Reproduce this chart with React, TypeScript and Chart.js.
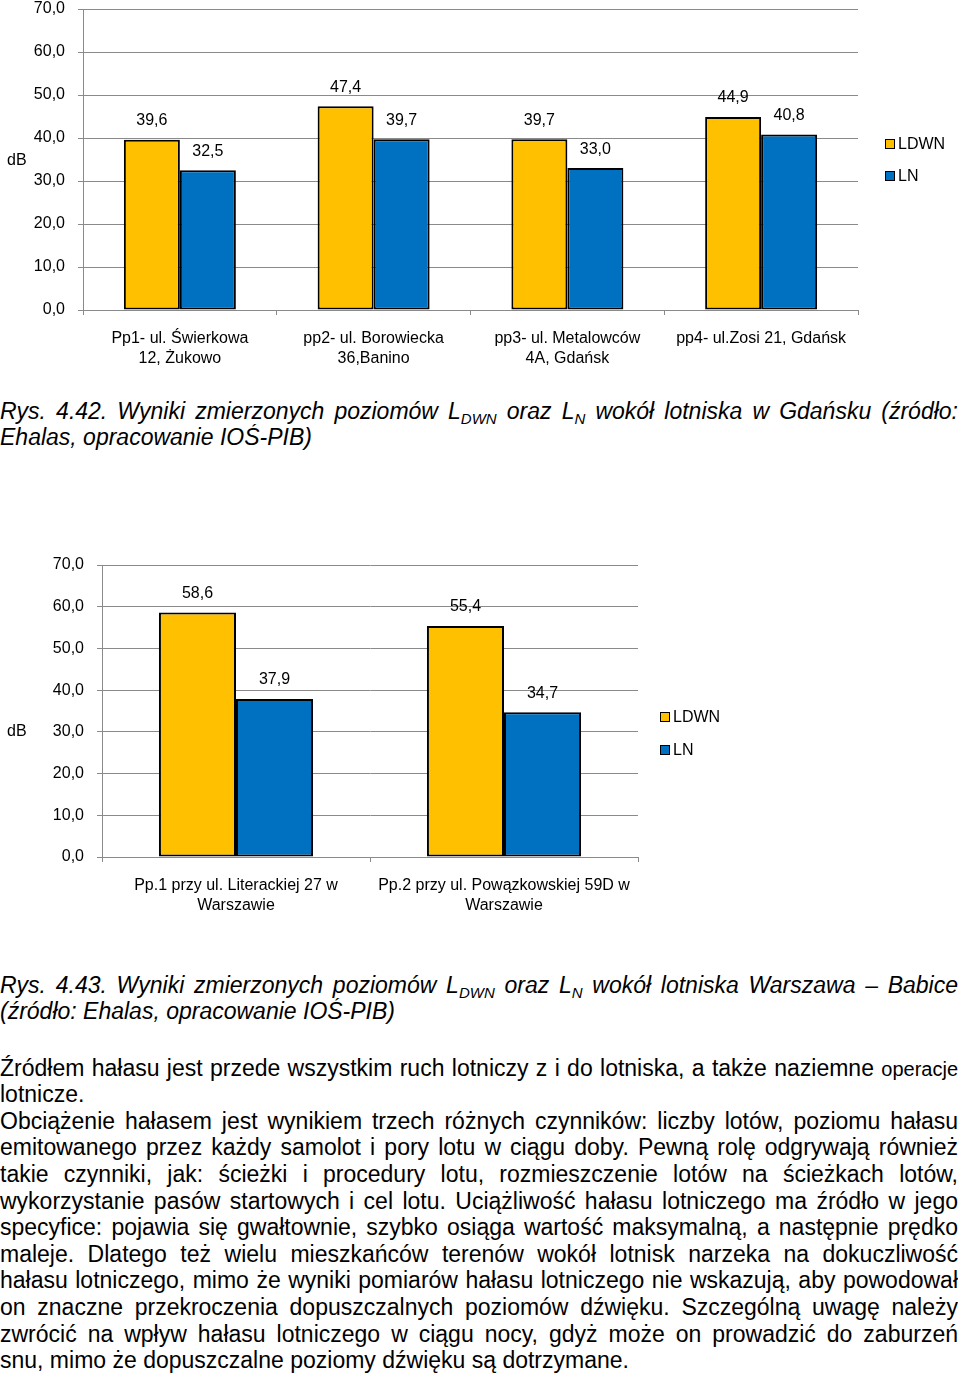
import React, { useEffect, useRef } from 'react';
import { Chart, registerables } from 'chart.js';

Chart.register(...registerables);

const FONT = '"Liberation Sans", Arial, Helvetica, sans-serif';
const GRID = '#8a8a8a';
const YELLOW = '#FFC000';
const BLUE = '#0070C0';

// ---- data ----
const seriesLabels = ['LDWN', 'LN'];
const yMin = 0;
const yMax = 70;
const yStep = 10;

const gdanskCategories = [
  ['Pp1- ul. Świerkowa', '12, Żukowo'],
  ['pp2- ul. Borowiecka', '36,Banino'],
  ['pp3- ul. Metalowców', '4A, Gdańsk'],
  ['pp4- ul.Zosi 21, Gdańsk'],
];
const gdanskLdwn = [39.6, 47.4, 39.7, 44.9];
const gdanskLn = [32.5, 39.7, 33.0, 40.8];

const warsawCategories = [
  ['Pp.1 przy ul. Literackiej 27 w', 'Warszawie'],
  ['Pp.2 przy ul. Powązkowskiej 59D w', 'Warszawie'],
];
const warsawLdwn = [58.6, 55.4];
const warsawLn = [37.9, 34.7];

const bodyLines = [
  'Źródłem hałasu jest przede wszystkim ruch lotniczy z i do lotniska, a także naziemne ',
  'lotnicze.',
  'Obciążenie hałasem jest wynikiem trzech różnych czynników: liczby lotów, poziomu hałasu',
  'emitowanego przez każdy samolot i pory lotu w ciągu doby. Pewną rolę odgrywają również',
  'takie czynniki, jak: ścieżki i procedury lotu, rozmieszczenie lotów na ścieżkach lotów,',
  'wykorzystanie pasów startowych i cel lotu. Uciążliwość hałasu lotniczego ma źródło w jego',
  'specyfice: pojawia się gwałtownie, szybko osiąga wartość maksymalną, a następnie prędko',
  'maleje. Dlatego też wielu mieszkańców terenów wokół lotnisk narzeka na dokuczliwość',
  'hałasu lotniczego, mimo że wyniki pomiarów hałasu lotniczego nie wskazują, aby powodował',
  'on znaczne przekroczenia dopuszczalnych poziomów dźwięku. Szczególną uwagę należy',
  'zwrócić na wpływ hałasu lotniczego w ciągu nocy, gdyż może on prowadzić do zaburzeń',
  'snu, mimo że dopuszczalne poziomy dźwięku są dotrzymane.',
];
const bodyJustified = [true, false, true, true, true, true, true, true, true, true, true, false];

const fmt = (v: number) => Number(v).toFixed(1).replace('.', ',');

const valueLabelPlugin = {
  id: 'valueLabels',
  afterDatasetsDraw(chart: any) {
    const ctx = chart.ctx;
    ctx.save();
    ctx.font = `16px ${FONT}`;
    ctx.fillStyle = '#000';
    ctx.textAlign = 'center';
    ctx.textBaseline = 'middle';
    chart.data.datasets.forEach((ds: any, i: number) => {
      const meta = chart.getDatasetMeta(i);
      meta.data.forEach((bar: any, j: number) => {
        ctx.fillText(fmt(ds.data[j]), bar.x, bar.y - 19);
      });
    });
    ctx.restore();
  },
};

type Area = { left: number; top: number; right: number; bottom: number };

function BarChart(props: {
  categories: string[][];
  ldwn: number[];
  ln: number[];
  width: number;
  height: number;
  area: Area;
  catPct: number;
}) {
  const ref = useRef<HTMLCanvasElement | null>(null);
  useEffect(() => {
    const { categories, ldwn, ln, width, height, area, catPct } = props;
    const chart = new Chart(ref.current as HTMLCanvasElement, {
      type: 'bar',
      data: {
        labels: categories,
        datasets: [
          {
            label: seriesLabels[0],
            data: ldwn,
            backgroundColor: YELLOW,
            borderColor: '#000',
            borderWidth: 2,
            borderSkipped: false,
            categoryPercentage: catPct,
            barPercentage: 1,
          },
          {
            label: seriesLabels[1],
            data: ln,
            backgroundColor: BLUE,
            borderColor: '#000',
            borderWidth: 2,
            borderSkipped: false,
            categoryPercentage: catPct,
            barPercentage: 1,
          },
        ],
      } as any,
      options: {
        animation: false,
        responsive: false,
        maintainAspectRatio: false,
        layout: { padding: { top: area.top, right: width - area.right, left: 0, bottom: 0 } },
        plugins: { legend: { display: false }, tooltip: { enabled: false } },
        scales: {
          x: {
            offset: true,
            grid: { offset: true, drawOnChartArea: false, drawTicks: true, tickLength: 5, color: GRID },
            border: { color: GRID, width: 1 },
            ticks: {
              font: { family: FONT, size: 16, lineHeight: 1.25 },
              color: '#000',
              padding: 14,
              maxRotation: 0,
              autoSkip: false,
            },
            afterFit: (s: any) => {
              s.height = height - area.bottom;
              s.paddingLeft = 0;
              s.paddingRight = 0;
            },
          },
          y: {
            min: yMin,
            max: yMax,
            ticks: {
              stepSize: yStep,
              callback: (v: any) => fmt(v),
              font: { family: FONT, size: 16, lineHeight: 1 },
              color: '#000',
              padding: 13,
            },
            grid: { color: GRID, tickLength: 5, lineWidth: 1 },
            border: { color: GRID, width: 1 },
            afterFit: (s: any) => {
              s.width = area.left;
              s.paddingTop = 0;
              s.paddingBottom = 0;
            },
          },
        },
      } as any,
      plugins: [valueLabelPlugin],
    });
    return () => chart.destroy();
  }, []);
  return <canvas ref={ref} width={props.width} height={props.height} style={{ display: 'block' }} />;
}

function Legend(props: { left: number; top: number; gap: number; box: number }) {
  const colors = [YELLOW, BLUE];
  return (
    <div style={{ position: 'absolute', left: props.left, top: props.top, fontFamily: FONT, fontSize: 16 }}>
      {seriesLabels.map((l, i) => (
        <div
          key={l}
          style={{ position: 'absolute', top: i * props.gap, left: 0, height: 16, lineHeight: '16px', whiteSpace: 'nowrap', display: 'flex', alignItems: 'center' }}
        >
          <span
            style={{
              display: 'inline-block',
              width: props.box,
              height: props.box,
              boxSizing: 'border-box',
              border: '1.5px solid #000',
              background: colors[i],
              marginRight: 3,
            }}
          />
          <span>{l}</span>
        </div>
      ))}
    </div>
  );
}

const LH = 26.6;

function Line(props: { children: any; justify: boolean; italic?: boolean }) {
  return (
    <div
      style={{
        width: 958,
        height: LH,
        lineHeight: LH + 'px',
        textAlign: props.justify ? 'justify' : 'left',
        textAlignLast: props.justify ? 'justify' : 'left',
        fontStyle: props.italic ? 'italic' : 'normal',
        overflow: 'hidden',
      }}
    >
      {props.children}
    </div>
  );
}

const Sub = (p: { t: string }) => (
  <span style={{ fontSize: 15, position: 'relative', top: 5 }}>{p.t}</span>
);

export default function App() {
  return (
    <div
      style={{
        position: 'absolute',
        left: 0,
        top: 0,
        width: 960,
        height: 1377,
        background: '#fff',
        overflow: 'hidden',
        fontFamily: FONT,
        color: '#000',
      }}
    >
      {/* Chart 1 */}
      <div style={{ position: 'absolute', left: 0, top: 0 }}>
        <BarChart
          categories={gdanskCategories}
          ldwn={gdanskLdwn}
          ln={gdanskLn}
          width={960}
          height={380}
          area={{ left: 83, top: 9, right: 858, bottom: 310 }}
          catPct={0.578}
        />
      </div>
      <div style={{ position: 'absolute', left: 7, top: 150, fontSize: 16, lineHeight: '20px' }}>dB</div>
      <Legend left={885} top={136} gap={32} box={10} />

      {/* Caption 1 */}
      <div style={{ position: 'absolute', left: 0, top: 397.7, fontSize: 23 }}>
        <Line justify italic>
          Rys. 4.42. Wyniki zmierzonych poziomów L<Sub t="DWN" /> oraz L<Sub t="N" /> wokół lotniska w Gdańsku (źródło:
        </Line>
        <Line justify={false} italic>
          Ehalas, opracowanie IOŚ-PIB)
        </Line>
      </div>

      {/* Chart 2 */}
      <div style={{ position: 'absolute', left: 0, top: 550 }}>
        <BarChart
          categories={warsawCategories}
          ldwn={warsawLdwn}
          ln={warsawLn}
          width={960}
          height={370}
          area={{ left: 102, top: 15, right: 638, bottom: 307 }}
          catPct={0.575}
        />
      </div>
      <div style={{ position: 'absolute', left: 7, top: 721, fontSize: 16, lineHeight: '20px' }}>dB</div>
      <Legend left={660} top={709} gap={33} box={10} />

      {/* Caption 2 */}
      <div style={{ position: 'absolute', left: 0, top: 971.7, fontSize: 23 }}>
        <Line justify italic>
          Rys. 4.43. Wyniki zmierzonych poziomów L<Sub t="DWN" /> oraz L<Sub t="N" /> wokół lotniska Warszawa – Babice
        </Line>
        <Line justify={false} italic>
          (źródło: Ehalas, opracowanie IOŚ-PIB)
        </Line>
      </div>

      {/* Body text */}
      <div style={{ position: 'absolute', left: 0, top: 1054.7, fontSize: 23 }}>
        {bodyLines.map((t, i) => (
          <Line key={i} justify={bodyJustified[i]}>
            {t}
            {i === 0 ? <span style={{ fontSize: 20 }}>operacje</span> : null}
          </Line>
        ))}
      </div>
    </div>
  );
}
